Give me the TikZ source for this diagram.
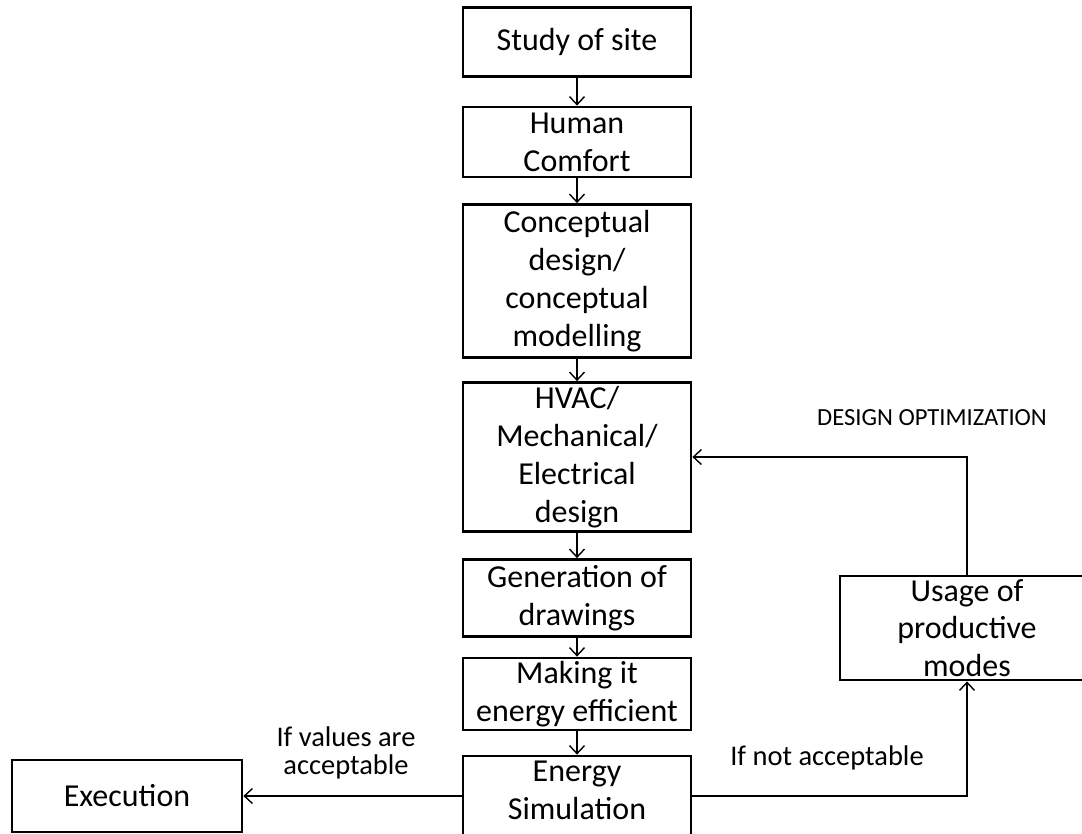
\documentclass[tikz,border=0pt]{standalone}
\usepackage{fontspec}
\setmainfont{Carlito}
\usetikzlibrary{arrows.meta}
\begin{document}
\begin{tikzpicture}[x=0.02cm,y=-0.02cm,
    stepbox/.style={draw,line width=1.6pt,inner sep=0pt,align=center,
      font=\fontsize{18.2}{21.5}\selectfont,minimum width=4.56cm},
    flow/.style={line width=0.8pt,-{Straight Barb[length=1.6mm,width=3mm]}},
    note/.style={align=center,font=\fontsize{16.2}{15.5}\selectfont}]
  \useasboundingbox (0,0) rectangle (1082,833);
  \draw
    (577,42) node[stepbox,minimum height=1.38cm] (site){Study of site}
    (577,142) node[stepbox,minimum height=1.40cm] (comfort){Human\\Comfort}
    (577,281) node[stepbox,minimum height=3.06cm] (concept){Conceptual\\design/\\conceptual\\modelling}
    (577,457) node[stepbox,minimum height=2.98cm] (hvac){HVAC/\\Mechanical/\\Electrical\\design}
    (577,598) node[stepbox,minimum height=1.54cm] (drawings){Generation of\\drawings}
    (577,694) node[stepbox,minimum height=1.44cm] (efficient){Making it\\energy efficient}
    (577,799) node[stepbox,minimum height=1.72cm,text depth=0.36cm] (sim){Energy\\Simulation}
    (127,796) node[stepbox,minimum width=4.60cm,minimum height=1.44cm] (exec){Execution}
    (967,628) node[stepbox,minimum width=5.08cm,minimum height=2.08cm] (usage){Usage of\\productive\\modes};
  \draw
    (932,418) node[font=\fontsize{14}{15}\selectfont] (optim){DESIGN OPTIMIZATION}
    (827,758) node[note] (notok){If not acceptable}
    (346,753) node[note] (ok){If values are\\acceptable};
  \begin{scope}[flow]
    \draw (site) to (comfort);
    \draw (comfort) to (concept);
    \draw (concept) to (hvac);
    \draw (hvac) to (drawings);
    \draw (drawings) to (efficient);
    \draw (efficient) to (sim);
    \draw (sim.west |- exec) to (exec);
    \draw (sim.east |- exec) -| (usage.south);
    \draw (usage.north) |- (hvac.east);
  \end{scope}
\end{tikzpicture}
\end{document}
